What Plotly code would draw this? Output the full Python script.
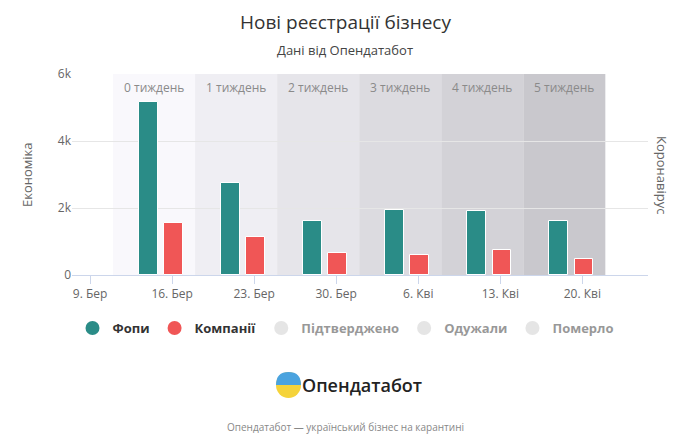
import plotly.graph_objects as go

weeks = ["9. Бер", "16. Бер", "23. Бер", "30. Бер", "6. Кві", "13. Кві", "20. Кві"]
fop = [None, 5150, 2750, 1620, 1930, 1900, 1600]
comp = [None, 1550, 1130, 650, 610, 760, 480]
band_labels = ["0 тиждень", "1 тиждень", "2 тиждень", "3 тиждень", "4 тиждень", "5 тиждень"]
band_colors = ["#f9f8fc", "#efeef3", "#e6e5ea", "#dcdbe0", "#d3d2d7", "#c9c8cd"]
hidden = ["Підтверджено", "Одужали", "Померло"]

W, H, M, O = 690, 437, 10, 8   # O: page body offset
L, R = 72 - O, W - 648 + O
def px(x): return (x - O - L) / (W - L - R)
def py(y): return (H - M - (y - O)) / (H - 2 * M)

xs = list(range(len(weeks)))
F = "Open Sans, sans-serif"
fig = go.Figure()
fig.add_bar(x=[x - 0.29 for x in xs], y=fop, width=0.23, marker_color="#2a8c87",
            marker_line_color="white", marker_line_width=1, showlegend=False, name="Фопи")
fig.add_bar(x=[x + 0.02 for x in xs], y=comp, width=0.23, marker_color="#f05656",
            marker_line_color="white", marker_line_width=1, showlegend=False, name="Компанії")
for nm, c in [("Фопи", "#2a8c87"), ("Компанії", "#f05656")]:
    fig.add_scatter(x=[None], y=[None], mode="markers", name=nm,
                    marker=dict(symbol="circle", size=14, color=c))
for nm in hidden:
    fig.add_scatter(x=[None], y=[None], mode="markers", name=nm, visible="legendonly",
                    marker=dict(symbol="circle", size=14, color="#cccccc"))

for i, (lab, col) in enumerate(zip(band_labels, band_colors)):
    x0 = i + 1 - 0.72
    fig.add_shape(type="rect", xref="x", yref="y", x0=x0, x1=x0 + 1, y0=0, y1=6000,
                  fillcolor=col, line_width=0, layer="below")
    fig.add_annotation(x=x0 + 0.5, y=py(88), yref="paper", text=lab, showarrow=False,
                       xanchor="center", yanchor="middle",
                       font=dict(family=F, size=12, color="#8a8a8a"))

def ann(x, y, text, size, color, angle=0, weight=None):
    fig.add_annotation(x=px(x), xref="paper", y=py(y), yref="paper", text=text, textangle=angle,
                       xanchor="center", yanchor="middle",
                       showarrow=False, font=dict(family=F, size=size, color=color, weight=weight))

ann(345, 22, "Нові реєстрації бізнесу", 19, "#333")
ann(345, 50, "Дані від Опендатабот", 13, "#444")
ann(27, 175, "Економіка", 13, "#666", -90)
ann(662, 175, "Коронавірус", 13, "#666", 90)
ann(362, 385, "Опендатабот", 18, "#222", weight=600)
ann(345, 427, "Опендатабот — український бізнес на карантині", 10, "#888")
fig.add_shape(type="circle", xref="paper", yref="paper", x0=px(276), x1=px(301), y0=py(398), y1=py(372),
              fillcolor="#f5d33a", line_width=0)
fig.add_shape(type="path", xref="paper", yref="paper",
              path=f"M {px(276)} {py(385)} Q {px(276)} {py(372)} {px(288.5)} {py(372)} Q {px(301)} {py(372)} {px(301)} {py(385)} Z",
              fillcolor="#4aa3df", line_width=0)

fig.update_layout(
    width=W, height=H, paper_bgcolor="white", plot_bgcolor="white",
    margin=dict(l=L, r=R, t=M, b=M, autoexpand=False),
    barmode="overlay", bargap=0,
    xaxis=dict(range=[-0.22, 6.8], tickvals=xs, ticktext=weeks, showgrid=False, automargin=False,
               ticks="outside", ticklen=8, tickcolor="#ccd6eb", showline=True, linecolor="#ccd6eb",
               tickfont=dict(family=F, size=12, color="#666")),
    yaxis=dict(domain=[py(275), py(74)], range=[0, 6000], tickvals=[0, 2000, 4000, 6000],
               ticktext=["0", "2k", "4k", "6k"], automargin=False,
               gridcolor="#e6e6e6", zeroline=False, tickfont=dict(family=F, size=12, color="#666")),
    legend=dict(orientation="h", x=px(346), xref="paper", xanchor="center", y=py(328), yanchor="middle",
                font=dict(family=F, size=13, color="#333", weight=700), itemclick=False),
)
fig.write_html("out.html")
